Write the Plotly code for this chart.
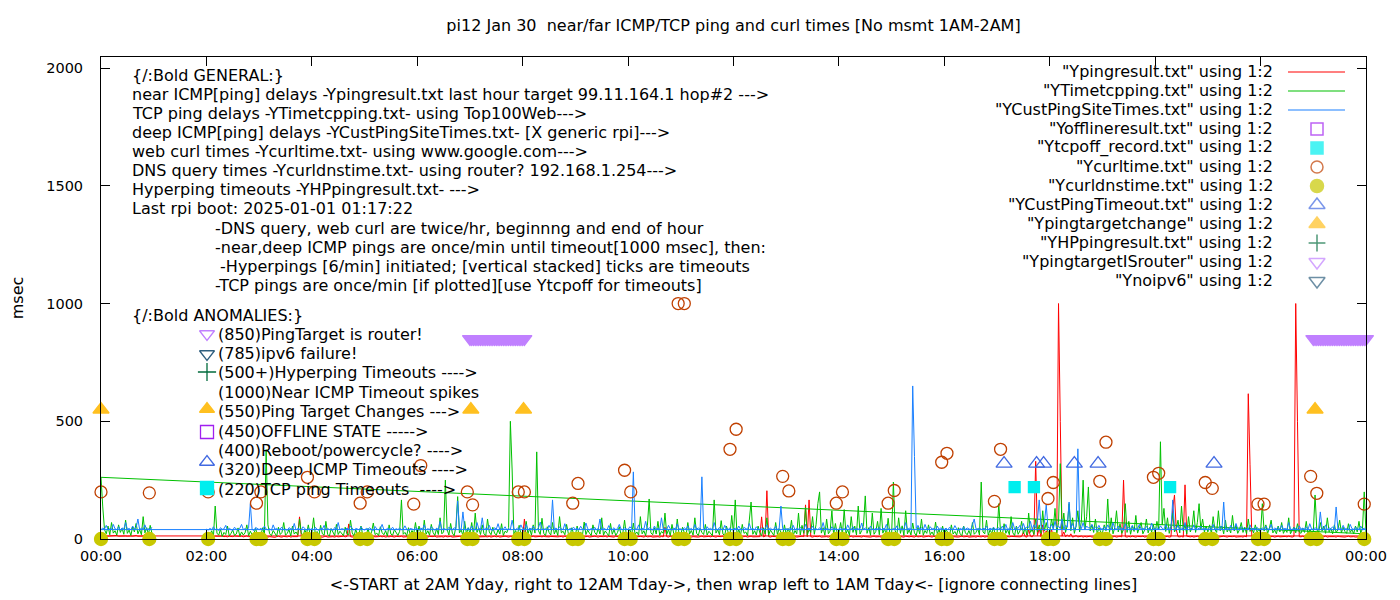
import plotly.graph_objects as go

# ---- data (times in minutes after midnight) ----
# line series are on a 2 minute grid, one row per hour; the file order is
# 02:00 .. 24:00 then the wrapped 00:00 .. 01:00 hour (gives the connecting lines)
row_hours = list(range(2, 24)) + [0]

near_icmp_rows = [
    [12, 10, 11, 13, 9, 12, 11, 10, 12, 13, 10, 11, 9, 12, 11, 10, 13, 12, 10, 11, 12, 9, 11, 13, 10, 12, 11, 10, 12, 11],
    [10, 8, 11, 9, 12, 8, 10, 9, 11, 7, 10, 12, 9, 8, 11, 10, 9, 12, 8, 10, 11, 9, 10, 94, 12, 9, 8, 11, 10, 9],
    [9, 11, 8, 10, 12, 9, 7, 10, 11, 8, 9, 12, 10, 8, 11, 9, 10, 8, 12, 9, 11, 64, 10, 8, 9, 11, 10, 12, 8, 10],
    [10, 9, 12, 8, 10, 11, 9, 8, 10, 12, 9, 11, 8, 10, 9, 12, 10, 8, 11, 9, 10, 12, 8, 9, 11, 10, 8, 12, 9, 10],
    [11, 8, 10, 9, 12, 10, 8, 11, 9, 10, 12, 8, 9, 11, 10, 8, 12, 9, 10, 11, 8, 9, 12, 10, 11, 9, 8, 10, 12, 9],
    [9, 10, 12, 8, 11, 9, 10, 8, 12, 10, 9, 11, 8, 10, 12, 9, 11, 8, 10, 9, 12, 10, 8, 11, 9, 10, 12, 8, 9, 11],
    [10, 85, 9, 11, 8, 10, 12, 9, 10, 8, 11, 9, 12, 10, 8, 9, 11, 10, 12, 8, 9, 10, 11, 8, 12, 10, 9, 11, 8, 10],
    [9, 11, 10, 8, 12, 9, 10, 11, 8, 10, 9, 12, 10, 8, 11, 9, 10, 12, 8, 11, 9, 10, 8, 12, 10, 9, 11, 8, 10, 9],
    [11, 9, 10, 12, 8, 10, 9, 11, 10, 8, 12, 9, 10, 11, 8, 9, 12, 10, 8, 11, 9, 50, 10, 8, 12, 9, 11, 10, 8, 10],
    [10, 8, 11, 9, 10, 12, 8, 10, 9, 11, 8, 10, 12, 9, 10, 8, 11, 9, 12, 10, 8, 11, 9, 10, 12, 8, 10, 9, 11, 10],
    [9, 11, 10, 8, 12, 9, 10, 11, 8, 10, 12, 9, 10, 8, 11, 10, 94, 9, 12, 205, 10, 8, 11, 9, 10, 12, 8, 10, 9, 11],
    [10, 8, 12, 9, 10, 11, 8, 10, 9, 12, 10, 145, 9, 166, 10, 8, 11, 9, 10, 12, 8, 9, 11, 10, 8, 12, 9, 10, 11, 8],
    [10, 12, 9, 8, 11, 10, 9, 12, 8, 10, 11, 9, 10, 8, 12, 10, 9, 11, 8, 10, 12, 9, 11, 10, 8, 9, 12, 10, 8, 11],
    [9, 10, 12, 8, 10, 11, 9, 8, 12, 10, 9, 11, 10, 8, 12, 9, 10, 11, 8, 10, 9, 12, 10, 8, 11, 9, 10, 12, 8, 10],
    [11, 9, 10, 8, 12, 10, 9, 11, 8, 10, 12, 9, 10, 11, 8, 9, 12, 10, 8, 11, 10, 9, 12, 8, 10, 11, 9, 10, 8, 12],
    [10, 8, 11, 9, 12, 10, 8, 9, 11, 10, 12, 8, 10, 9, 11, 30, 10, 8, 40, 12, 9, 20, 330, 15, 45, 10, 60, 12, 35, 18],
    [12, 40, 10, 25, 15, 1000, 500, 12, 30, 9, 18, 10, 22, 8, 11, 14, 9, 10, 12, 8, 11, 9, 10, 12, 8, 10, 9, 11, 10, 8],
    [10, 9, 11, 8, 12, 10, 9, 11, 8, 10, 12, 9, 250, 10, 8, 11, 9, 12, 10, 8, 11, 9, 10, 12, 8, 10, 9, 11, 8, 10],
    [9, 11, 10, 8, 12, 9, 10, 11, 8, 10, 128, 187, 40, 10, 9, 11, 8, 230, 12, 10, 9, 11, 8, 10, 12, 9, 10, 8, 11, 9],
    [10, 8, 12, 9, 10, 11, 8, 10, 9, 12, 10, 8, 11, 9, 10, 12, 8, 9, 11, 10, 8, 12, 9, 617, 315, 10, 8, 11, 9, 10],
    [11, 9, 10, 12, 8, 10, 9, 11, 8, 10, 12, 9, 10, 8, 11, 9, 12, 10, 8, 11, 1000, 500, 10, 9, 12, 8, 10, 11, 9, 10],
    [10, 12, 9, 8, 11, 10, 9, 12, 8, 10, 11, 9, 10, 8, 12, 10, 9, 11, 8, 10, 12, 9, 11, 10, 8, 9, 12, 10, 8, 11, 13],
    [13, 12, 14, 13, 12, 13, 14, 12, 13, 15, 12, 13, 14, 12, 13, 12, 14, 13, 12, 13, 15, 12, 13, 14, 12, 13, 12, 14, 13, 12],
]

tcp_rows = [
    [14, 22, 18, 35, 12, 140, 25, 16, 42, 11, 28, 19, 55, 13, 24, 38, 15, 21, 47, 12, 30, 17, 26, 60, 14, 33, 18, 22, 45, 16],
    [20, 15, 48, 18, 380, 60, 22, 14, 36, 25, 12, 50, 19, 28, 70, 16, 24, 40, 13, 55, 21, 30, 17, 85, 26, 14, 38, 22, 60, 18],
    [25, 90, 18, 32, 14, 58, 22, 16, 75, 20, 12, 44, 28, 15, 62, 19, 33, 24, 14, 50, 21, 17, 80, 26, 13, 40, 18, 29, 55, 15],
    [22, 16, 45, 13, 30, 68, 19, 25, 14, 52, 27, 18, 35, 12, 60, 21, 16, 40, 24, 15, 33, 166, 20, 28, 14, 48, 19, 36, 22, 70],
    [18, 55, 24, 14, 80, 20, 35, 16, 62, 28, 15, 44, 19, 90, 22, 30, 250, 40, 17, 66, 25, 14, 52, 180, 26, 38, 15, 75, 21, 48],
    [24, 70, 16, 110, 28, 45, 19, 60, 22, 14, 85, 30, 18, 50, 25, 16, 40, 21, 65, 15, 33, 27, 48, 500, 293, 20, 36, 14, 58, 22],
    [30, 18, 75, 22, 45, 16, 60, 25, 370, 35, 19, 88, 24, 14, 52, 28, 17, 70, 21, 40, 15, 95, 26, 33, 18, 62, 23, 14, 48, 20],
    [16, 55, 22, 30, 14, 72, 19, 38, 25, 15, 60, 28, 18, 45, 21, 90, 16, 34, 24, 13, 66, 20, 40, 15, 28, 52, 18, 24, 80, 17],
    [24, 42, 15, 68, 20, 30, 16, 95, 22, 35, 14, 58, 170, 26, 18, 48, 21, 75, 15, 32, 24, 110, 19, 40, 14, 62, 23, 17, 85, 20],
    [18, 50, 26, 14, 70, 21, 36, 16, 90, 24, 15, 45, 28, 19, 62, 17, 33, 22, 14, 166, 25, 40, 18, 78, 21, 15, 55, 27, 16, 100],
    [22, 166, 18, 40, 15, 62, 24, 30, 14, 80, 157, 20, 35, 17, 55, 26, 14, 48, 21, 90, 16, 38, 24, 15, 70, 19, 44, 28, 14, 60],
    [18, 45, 26, 80, 15, 36, 22, 110, 17, 58, 24, 134, 16, 40, 28, 95, 20, 62, 150, 200, 25, 48, 16, 85, 22, 34, 120, 18, 66, 24],
    [26, 70, 18, 125, 22, 40, 15, 95, 28, 55, 17, 140, 21, 36, 60, 183, 24, 48, 16, 110, 20, 32, 75, 18, 130, 25, 44, 15, 88, 22],
    [20, 242, 35, 18, 90, 24, 56, 15, 120, 22, 40, 17, 68, 26, 14, 50, 21, 85, 16, 36, 24, 60, 18, 30, 15, 72, 22, 40, 16, 55],
    [18, 40, 24, 15, 60, 21, 32, 16, 48, 22, 14, 55, 26, 18, 36, 15, 70, 20, 28, 44, 17, 242, 30, 22, 80, 16, 38, 24, 50, 18],
    [22, 150, 28, 16, 65, 24, 40, 18, 95, 26, 15, 55, 20, 34, 75, 22, 48, 17, 110, 28, 40, 19, 85, 30, 60, 24, 120, 35, 70, 28],
    [30, 85, 45, 130, 26, 70, 320, 40, 110, 28, 60, 150, 35, 90, 24, 55, 120, 30, 75, 250, 40, 95, 221, 34, 60, 28, 85, 22, 48, 30],
    [26, 60, 35, 170, 28, 90, 22, 48, 120, 30, 65, 24, 40, 150, 28, 75, 20, 55, 32, 100, 25, 44, 70, 22, 38, 85, 26, 50, 30, 60],
    [28, 75, 40, 413, 60, 130, 32, 90, 24, 55, 110, 30, 45, 80, 26, 140, 35, 60, 22, 95, 30, 50, 120, 28, 70, 150, 40, 85, 30, 55],
    [30, 60, 24, 95, 40, 28, 120, 35, 55, 22, 80, 30, 45, 26, 100, 34, 60, 24, 40, 70, 28, 50, 22, 85, 32, 44, 26, 60, 30, 40],
    [28, 150, 34, 60, 24, 45, 80, 26, 38, 22, 55, 30, 70, 24, 40, 28, 90, 22, 36, 50, 26, 65, 30, 24, 45, 28, 75, 22, 40, 30],
    [30, 187, 40, 26, 70, 34, 55, 24, 90, 30, 45, 22, 60, 28, 38, 80, 26, 50, 32, 24, 65, 28, 40, 22, 55, 30, 75, 26, 44, 200, 22],
    [262, 136, 40, 22, 55, 18, 70, 25, 35, 16, 60, 28, 45, 20, 80, 24, 38, 15, 52, 30, 66, 22, 40, 18, 95, 26, 48, 20, 58, 24],
]

deep_icmp_rows = [
    [42, 38, 45, 40, 52, 39, 44, 36, 48, 41, 43, 58, 38, 46, 40, 37, 50, 42, 39, 45, 62, 40, 44, 38, 47, 150, 41, 36, 49, 43],
    [40, 46, 38, 55, 42, 39, 44, 37, 60, 41, 45, 38, 43, 50, 39, 42, 36, 48, 44, 40, 66, 38, 45, 41, 39, 52, 43, 37, 46, 40],
    [44, 39, 50, 41, 37, 46, 42, 58, 38, 45, 40, 43, 36, 49, 41, 70, 39, 44, 42, 38, 47, 40, 55, 43, 37, 45, 41, 39, 52, 42],
    [38, 45, 41, 48, 40, 36, 53, 42, 39, 44, 62, 40, 37, 46, 43, 41, 50, 38, 44, 40, 47, 39, 42, 56, 41, 37, 45, 43, 40, 48],
    [42, 39, 47, 41, 60, 38, 44, 40, 52, 43, 37, 46, 41, 75, 39, 45, 42, 38, 50, 44, 40, 48, 41, 162, 45, 40, 115, 43, 39, 47],
    [40, 55, 42, 38, 70, 44, 41, 90, 39, 46, 43, 58, 40, 37, 48, 42, 65, 39, 45, 41, 52, 38, 44, 40, 80, 43, 39, 47, 41, 60],
    [44, 40, 62, 38, 46, 42, 55, 41, 39, 48, 72, 43, 40, 45, 38, 58, 44, 166, 41, 47, 39, 52, 43, 40, 65, 42, 38, 46, 41, 50],
    [41, 47, 39, 54, 42, 40, 68, 44, 38, 45, 41, 50, 39, 43, 85, 40, 46, 42, 38, 57, 44, 41, 48, 39, 45, 62, 42, 40, 47, 43],
    [40, 52, 44, 285, 46, 41, 60, 39, 45, 42, 75, 40, 48, 43, 38, 55, 41, 46, 39, 90, 42, 44, 40, 58, 43, 38, 47, 41, 64, 42],
    [43, 39, 48, 41, 56, 40, 45, 38, 62, 42, 47, 40, 264, 44, 39, 52, 41, 46, 38, 70, 43, 40, 49, 42, 38, 58, 44, 41, 47, 39],
    [41, 46, 40, 55, 42, 38, 49, 43, 40, 66, 41, 45, 39, 52, 43, 40, 48, 38, 44, 60, 41, 46, 40, 42, 54, 39, 45, 140, 43, 41],
    [44, 40, 47, 42, 58, 39, 45, 41, 50, 43, 38, 62, 42, 46, 40, 55, 41, 44, 39, 48, 42, 70, 40, 45, 43, 38, 52, 41, 46, 40],
    [42, 48, 40, 45, 39, 60, 43, 41, 52, 38, 46, 42, 44, 68, 40, 47, 41, 39, 55, 43, 40, 45, 42, 50, 38, 46, 41, 62, 43, 40],
    [40, 45, 42, 56, 39, 47, 41, 43, 70, 40, 46, 42, 650, 350, 44, 58, 41, 48, 39, 62, 43, 40, 52, 42, 45, 38, 55, 41, 47, 43],
    [41, 46, 39, 50, 42, 40, 57, 43, 38, 45, 41, 52, 40, 47, 42, 39, 60, 85, 44, 41, 48, 40, 45, 43, 55, 39, 46, 42, 50, 41],
    [43, 48, 40, 55, 42, 62, 39, 46, 44, 70, 41, 50, 45, 58, 40, 66, 43, 52, 48, 75, 42, 60, 46, 80, 166, 55, 44, 72, 145, 50],
    [46, 62, 42, 75, 48, 55, 44, 85, 40, 58, 50, 157, 45, 66, 42, 52, 383, 60, 44, 70, 41, 55, 47, 48, 62, 43, 50, 45, 58, 42],
    [44, 52, 40, 60, 46, 42, 70, 45, 41, 55, 43, 48, 40, 65, 44, 50, 42, 58, 39, 47, 43, 62, 41, 46, 40, 54, 44, 42, 68, 41],
    [43, 48, 41, 56, 45, 40, 62, 44, 47, 42, 166, 50, 43, 58, 40, 46, 44, 70, 41, 52, 45, 42, 60, 40, 48, 43, 55, 41, 46, 44],
    [40, 50, 43, 62, 41, 46, 39, 55, 44, 157, 42, 48, 40, 58, 45, 41, 66, 43, 39, 52, 44, 40, 47, 42, 60, 41, 45, 43, 50, 40],
    [42, 47, 40, 55, 43, 41, 62, 39, 46, 44, 50, 40, 58, 42, 45, 41, 70, 43, 39, 48, 44, 40, 56, 42, 46, 41, 52, 40, 65, 43],
    [41, 48, 43, 40, 115, 45, 42, 60, 40, 47, 44, 52, 41, 136, 43, 46, 40, 58, 42, 45, 39, 62, 44, 41, 50, 43, 40, 55, 42, 46, 40],
    [40, 46, 42, 58, 39, 44, 41, 62, 43, 40, 52, 38, 47, 42, 70, 41, 45, 39, 55, 43, 48, 85, 40, 46, 42, 60, 39, 44, 41, 50],
]

# curl / dns are taken at the start and end of each hour
check_t = [0, 55, 122, 177, 182, 235, 243, 295, 303, 356, 364, 417, 423, 475, 482, 537, 543,
           596, 603, 657, 664, 716, 723, 776, 783, 837, 844, 896, 903, 957, 963, 1017, 1024,
           1078, 1084, 1137, 1144, 1198, 1204, 1257, 1265, 1317, 1324, 1377, 1384, 1438]
curl_ms = [200, 196, 200, 152, 200, 262, 200, 152, 200, 148, 312, 200, 145, 200, 200, 152, 236,
           292, 200, 1000, 1000, 381, 466, 266, 204, 152, 200, 152, 206, 326, 364, 160, 381,
           172, 240, 245, 411, 262, 279, 240, 215, 148, 148, 266, 194, 148]
dns_ms = [0] * len(check_t)

tcpoff_t = [1040, 1062, 1217]
tcpoff_ms = [220, 220, 220]

cust_timeout_t = [1028, 1065, 1073, 1108, 1135, 1267]
cust_timeout_ms = [320, 320, 320, 320, 320, 320]

target_change_t = [0, 421, 481, 1382]
target_change_ms = [550, 550, 550, 550]

router_t = [420, 422, 424, 426, 428, 430, 432, 434, 436, 438, 440, 442, 444, 446, 448, 450,
            452, 454, 456, 458, 460, 462, 464, 466, 468, 470, 472, 474, 476, 478, 480, 482,
            1380, 1382, 1384, 1386, 1388, 1390, 1392, 1394, 1396, 1398, 1400, 1402, 1404, 1406,
            1408, 1410, 1412, 1414, 1416, 1418, 1420, 1422, 1424, 1426, 1428, 1430, 1432, 1434,
            1436, 1438, 1440]
router_ms = [850] * len(router_t)

tick_vals = [0, 120, 240, 360, 480, 600, 720, 840, 960, 1080, 1200, 1320, 1440]
tick_text = ["00:00", "02:00", "04:00", "06:00", "08:00", "10:00", "12:00",
             "14:00", "16:00", "18:00", "20:00", "22:00", "00:00"]

legend_names = ['"Ypingresult.txt" using 1:2', '"YTimetcpping.txt" using 1:2',
                '"YCustPingSiteTimes.txt" using 1:2', '"Yofflineresult.txt" using 1:2',
                '"Ytcpoff_record.txt" using 1:2', '"Ycurltime.txt" using 1:2',
                '"Ycurldnstime.txt" using 1:2', '"YCustPingTimeout.txt" using 1:2',
                '"Ypingtargetchange" using 1:2', '"YHPpingresult.txt" using 1:2',
                '"YpingtargetISrouter" using 1:2', '"Ynoipv6" using 1:2']

general_lines = [
    "{/:Bold GENERAL:}",
    "near ICMP[ping] delays -Ypingresult.txt last hour target 99.11.164.1 hop#2 --->",
    "TCP ping delays -YTimetcpping.txt- using Top100Web--->",
    "deep ICMP[ping] delays -YCustPingSiteTimes.txt- [X generic rpi]--->",
    "web curl times -Ycurltime.txt- using www.google.com--->",
    "DNS query times -Ycurldnstime.txt- using router? 192.168.1.254--->",
    "Hyperping timeouts -YHPpingresult.txt- --->",
    "Last rpi boot: 2025-01-01 01:17:22",
]
note_lines = [
    "-DNS query, web curl are twice/hr, beginnng and end of hour",
    "-near,deep ICMP pings are once/min until timeout[1000 msec], then:",
    " -Hyperpings [6/min] initiated; [vertical stacked] ticks are timeouts",
    "-TCP pings are once/min [if plotted][use Ytcpoff for timeouts]",
]
anomaly_lines = [
    "(850)PingTarget is router!",
    "(785)ipv6 failure!",
    "(500+)Hyperping Timeouts ---->",
    "(1000)Near ICMP Timeout spikes",
    "(550)Ping Target Changes --->",
    "(450)OFFLINE STATE ----->",
    "(400)Reboot/powercycle? ---->",
    "(320)Deep ICMP Timeouts ---->",
    "(220)TCP ping Timeouts  ---->",
]

RED = "#ff0000"
GREEN = "#00c000"
BLUE = "#1a80ff"
OFFLINE = "#a020f0"
CYAN = "#00eeee"
CURL = "#c04000"
DNS = "#c8c800"
CUSTTO = "#4169e1"
ORANGE = "#ffc020"
HPGREEN = "#006b3c"
ROUTER = "#c080ff"
NOIPV6 = "#2f5f7f"
FONT = "DejaVu Sans"
TXT = 16


def flatten(rows):
    t, v = [], []
    for h, row in zip(row_hours, rows):
        for i, val in enumerate(row):
            t.append(h * 60 + 2 * i)
            v.append(val)
    return t, v


def esc(s):
    return s.replace("&", "&amp;").replace("<", "&lt;").replace(">", "&gt;").replace("  ", "\u00a0\u00a0")


near_t, near_ms = flatten(near_icmp_rows)
tcp_t, tcp_ms = flatten(tcp_rows)
deep_t, deep_ms = flatten(deep_icmp_rows)

fig = go.Figure()

for t, v, c, n in [(near_t, near_ms, RED, legend_names[0]),
                   (tcp_t, tcp_ms, GREEN, legend_names[1]),
                   (deep_t, deep_ms, BLUE, legend_names[2])]:
    fig.add_trace(go.Scatter(x=t, y=v, mode="lines", name=n,
                             line=dict(color=c, width=1)))

point_sets = [
    (tcpoff_t, tcpoff_ms, "square", CYAN, 11, legend_names[4]),
    (check_t, curl_ms, "circle-open", CURL, 12, legend_names[5]),
    (check_t, dns_ms, "circle", DNS, 13, legend_names[6]),
    (cust_timeout_t, cust_timeout_ms, "triangle-up-open", CUSTTO, 14, legend_names[7]),
    (target_change_t, target_change_ms, "triangle-up", ORANGE, 14, legend_names[8]),
    (router_t, router_ms, "triangle-down", ROUTER, 13, legend_names[10]),
]
for t, v, sym, c, sz, n in point_sets:
    fig.add_trace(go.Scatter(x=t, y=v, mode="markers", name=n, cliponaxis=False,
                             marker=dict(symbol=sym, color=c, size=sz,
                                         line=dict(color=c, width=1.3))))

# ---- hand drawn key (gnuplot style, text right aligned, sample on the right) ----
# overlay axes x2/y2 are in page pixels of the plot area
key_y = [72 + 19 * k for k in range(12)]
for k, c in enumerate([RED, GREEN, BLUE]):
    fig.add_trace(go.Scatter(x=[1288, 1345], y=[key_y[k], key_y[k]], mode="lines",
                             xaxis="x2", yaxis="y2", line=dict(color=c, width=1.2),
                             hoverinfo="skip"))
key_syms = [("square-open", OFFLINE, 12), ("square", CYAN, 12), ("circle-open", CURL, 12),
            ("circle", DNS, 13), ("triangle-up-open", CUSTTO, 14), ("triangle-up", ORANGE, 14),
            ("cross-thin-open", HPGREEN, 12), ("triangle-down-open", ROUTER, 14),
            ("triangle-down-open", NOIPV6, 14)]
fig.add_trace(go.Scatter(x=[1317] * len(key_syms), y=key_y[3:], mode="markers",
                         xaxis="x2", yaxis="y2", hoverinfo="skip",
                         marker=dict(symbol=[s[0] for s in key_syms],
                                     color=[s[1] for s in key_syms],
                                     size=[s[2] for s in key_syms],
                                     line=dict(color=[s[1] for s in key_syms], width=1.5))))

# symbols in front of the anomaly notes
anom_syms = [("triangle-down-open", ROUTER, 334), ("triangle-down-open", NOIPV6, 354),
             ("cross-thin-open", HPGREEN, 372), ("triangle-up", ORANGE, 409),
             ("square-open", OFFLINE, 432), ("triangle-up-open", CUSTTO, 462),
             ("square", CYAN, 488)]
fig.add_trace(go.Scatter(x=[207] * len(anom_syms), y=[s[2] for s in anom_syms],
                         mode="markers", xaxis="x2", yaxis="y2", hoverinfo="skip",
                         marker=dict(symbol=[s[0] for s in anom_syms],
                                     color=[s[1] for s in anom_syms], size=13,
                                     line=dict(color=[s[1] for s in anom_syms], width=1.3))))

notes = []


def note(x, y, text, anchor="left"):
    notes.append(dict(x=x, y=y, xref="x2", yref="y2", text=esc(text), showarrow=False,
                      xanchor=anchor, yanchor="middle",
                      font=dict(family=FONT, size=TXT, color="black")))


for k, s in enumerate(legend_names):
    note(1275, 71 + 19 * k, s, "right")
for k, s in enumerate(general_lines):
    note(130, 75 + 19.1 * k, s)
for k, s in enumerate(note_lines):
    note(213, 228 + 19.3 * k, s)
note(130, 315, "{/:Bold ANOMALIES:}")
for k, s in enumerate(anomaly_lines):
    note(216, 334 + 19.4 * k, s)

# the page has an 8px body margin, so the margins below are shifted by 8px
fig.update_layout(
    width=1400, height=600,
    margin=dict(l=93, r=42, t=49, b=69),
    paper_bgcolor="white", plot_bgcolor="white",
    showlegend=False,
    font=dict(family=FONT, size=14, color="black"),
    title=dict(text=esc("pi12 Jan 30  near/far ICMP/TCP ping and curl times [No msmt 1AM-2AM]"),
               x=0.5, xref="paper", y=1 - 17 / 600, yref="container", yanchor="middle",
               font=dict(family=FONT, size=TXT, color="black")),
    xaxis=dict(range=[0, 1440], tickvals=tick_vals, ticktext=tick_text, automargin=False,
               ticks="inside", ticklen=9, tickcolor="black", mirror="allticks",
               showline=True, linecolor="black", linewidth=1, showgrid=False,
               zeroline=False, ticklabelstandoff=4, tickfont=dict(size=14.5),
               title=dict(text=esc("<-START at 2AM Yday, right to 12AM Tday->, then wrap left to 1AM Tday<- [ignore connecting lines]"),
                          standoff=15, font=dict(family=FONT, size=TXT))),
    yaxis=dict(range=[0, 2047], tickvals=[0, 500, 1000, 1500, 2000], automargin=False,
               ticks="inside", ticklen=9, tickcolor="black", mirror="allticks",
               showline=True, linecolor="black", linewidth=1, showgrid=False,
               zeroline=False, ticklabelstandoff=14, tickfont=dict(size=14.5),
               title=dict(text="msec", standoff=26, font=dict(family=FONT, size=TXT))),
    xaxis2=dict(overlaying="x", range=[101, 1366], visible=False, fixedrange=True),
    yaxis2=dict(overlaying="y", range=[539, 57], visible=False, fixedrange=True),
    annotations=notes,
)

fig.write_html("out.html")
